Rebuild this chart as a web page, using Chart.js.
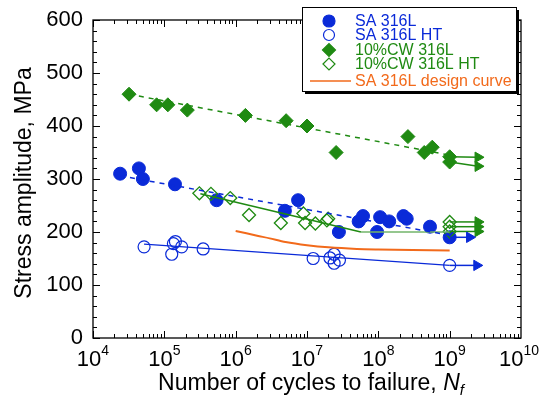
<!DOCTYPE html>
<html>
<head>
<meta charset="utf-8">
<script src="https://cdn.jsdelivr.net/npm/chart.js@4.4.1/dist/chart.umd.min.js"></script>
<style>
  html, body { margin: 0; padding: 0; background: #fff; }
  canvas { display: block; }
</style>
</head>
<body>
<canvas id="fatigueChart" width="540" height="398"></canvas>
<script>
// data (x = cycles, y = MPa)
const saX = [2.4e4, 4.4e4, 5.0e4, 1.41e5, 5.4e5, 4.9e6, 7.5e6, 2.8e7, 5.3e7, 6.1e7, 9.6e7, 1.06e8, 1.42e8, 2.25e8, 2.5e8, 5.3e8, 1e9];
const saY = [310, 320, 300, 290, 260, 240, 260, 200, 220, 230, 200, 228, 220, 230, 225, 210, 190];

const saHtX = [5.2e4, 1.27e5, 1.34e5, 1.43e5, 1.75e5, 3.5e5, 1.22e7, 2.1e7, 2.4e7, 2.4e7, 2.85e7, 1e9];
const saHtY = [172, 158, 178, 182, 172, 168, 150, 151, 158, 141, 147, 137];

const cwX = [3.2e4, 7.8e4, 1.12e5, 2.1e5, 1.37e6, 5.1e6, 1.0e7, 2.56e7, 2.6e8, 4.4e8, 5.7e8, 1e9, 1e9];
const cwY = [460, 440, 440, 430, 420, 410, 400, 350, 380, 350, 360, 342, 332];

const cwHtX = [3.1e5, 4.5e5, 8.4e5, 1.54e6, 4.3e6, 8.9e6, 9.4e6, 1.31e7, 1.9e7, 1.98e7, 1e9, 1e9, 1e9];
const cwHtY = [273, 272, 264, 232, 217, 235, 217, 216, 222, 225, 219, 210, 201];

// trend lines
const saFitX = [2.4e4, 1e9];
const saFitY = [306, 194];
const saHtFitX = [5.2e4, 1e9];
const saHtFitY = [177, 137];
const cwFitX = [3.2e4, 1e9];
const cwFitY = [460, 345];
const cwHtFitX = [3.2e5, 5.7e7, 1e9];
const cwHtFitY = [272, 200, 200];

// design curve
const designX = [1e6, 2e6, 3e6, 5e6, 1e7, 2e7, 5e7, 1e8, 3e8, 1e9];
const designY = [202, 193, 188, 181, 175, 171, 168, 167, 166, 165];

// run-out arrows (start at 1e9)
const runStartX = 1e9;
const saRunY = [190];
const saRunTipX = [1.9e9];
const saHtRunY = [137];
const saHtRunTipX = [2.4e9];
const cwRunY = [342, 332];
const cwRunTipY = [341, 324];
const cwHtRunY = [219, 210, 201];
const runTipX = 2.5e9;

const xTickExp = [4, 5, 6, 7, 8, 9, 10];
const yTicks = [0, 100, 200, 300, 400, 500, 600];

const BLUE = '#0a2ad8';
const GREEN = '#1f8a12';
const LIGHTGREEN = '#72b46a';
const ORANGE = '#f26a1b';
const FONT = "'Liberation Sans', Arial, Helvetica, sans-serif";

const pts = (xs, ys) => xs.map((x, i) => ({ x: x, y: ys[i] }));

function arrow(y0, x1, y1, color) {
    return {
        data: [{ x: runStartX, y: y0 }, { x: x1, y: y1 }],
        showLine: true, borderColor: color, backgroundColor: color, borderWidth: 1.5,
        pointStyle: 'triangle', pointRotation: 90, pointRadius: [0, 6], pointBorderWidth: 1
    };
}

const datasets = [
    { data: pts(designX, designY), showLine: true, borderColor: ORANGE, borderWidth: 2, pointRadius: 0, tension: 0.3 },
    { data: pts(saHtFitX, saHtFitY), showLine: true, borderColor: BLUE, borderWidth: 1.3, pointRadius: 0 },
    { data: pts(saFitX, saFitY), showLine: true, borderColor: BLUE, borderWidth: 1.5, borderDash: [5, 5], pointRadius: 0 },
    { data: pts(cwFitX, cwFitY), showLine: true, borderColor: GREEN, borderWidth: 1.5, borderDash: [5, 5], pointRadius: 0 },
    {
        data: pts(cwHtFitX, cwHtFitY), showLine: true, borderColor: GREEN, borderWidth: 1.5, pointRadius: 0,
        segment: { borderColor: ctx => ctx.p0.parsed.x >= 5e7 ? LIGHTGREEN : GREEN }
    },
    arrow(saRunY[0], saRunTipX[0], saRunY[0], BLUE),
    arrow(saHtRunY[0], saHtRunTipX[0], saHtRunY[0], BLUE),
    ...cwRunY.map((y, i) => arrow(y, runTipX, cwRunTipY[i], GREEN)),
    ...cwHtRunY.map(y => arrow(y, runTipX, y, GREEN)),
    { data: pts(saHtX, saHtY), pointStyle: 'circle', pointRadius: 6, borderColor: BLUE, backgroundColor: 'rgba(255,255,255,0)', pointBorderWidth: 1.2 },
    { data: pts(cwHtX, cwHtY), pointStyle: 'rectRot', pointRadius: 6.5, borderColor: GREEN, backgroundColor: 'rgba(255,255,255,0)', pointBorderWidth: 1.3 },
    { data: pts(cwX, cwY), pointStyle: 'rectRot', pointRadius: 7, borderColor: GREEN, backgroundColor: GREEN, pointBorderWidth: 1 },
    { data: pts(saX, saY), pointStyle: 'circle', pointRadius: 6.5, borderColor: BLUE, backgroundColor: BLUE, pointBorderWidth: 1 }
];

// 축, 눈금, 라벨, 범례를 직접 그림
const framePlugin = {
    id: 'frame',
    afterDraw(chart) {
        const ctx = chart.ctx;
        const a = chart.chartArea;
        const xs = chart.scales.x, ys = chart.scales.y;
        ctx.save();
        ctx.strokeStyle = '#000';
        ctx.lineWidth = 1.3;
        ctx.strokeRect(a.left, a.top, a.right - a.left, a.bottom - a.top);

        ctx.lineWidth = 1;
        ctx.beginPath();
        for (let v = 0; v <= 600; v += 20) {
            const y = Math.round(ys.getPixelForValue(v)) + 0.5;
            const len = v % 100 === 0 ? 7 : 4;
            ctx.moveTo(a.left, y); ctx.lineTo(a.left + len, y);
            ctx.moveTo(a.right, y); ctx.lineTo(a.right - len, y);
        }
        for (let e = 4; e < 10; e++) {
            for (let m = 1; m <= 9; m++) {
                const x = Math.round(xs.getPixelForValue(m * Math.pow(10, e))) + 0.5;
                const len = m === 1 ? 7 : 4;
                ctx.moveTo(x, a.bottom); ctx.lineTo(x, a.bottom - len);
                ctx.moveTo(x, a.top); ctx.lineTo(x, a.top + len);
            }
        }
        ctx.stroke();

        // y tick labels
        ctx.fillStyle = '#000';
        ctx.font = '22px ' + FONT;
        ctx.textAlign = 'right';
        ctx.textBaseline = 'middle';
        yTicks.forEach(v => ctx.fillText(String(v), a.left - 10, ys.getPixelForValue(v)));

        // x tick labels 10^n
        ctx.textAlign = 'left';
        ctx.textBaseline = 'alphabetic';
        xTickExp.forEach(e => {
            const x = xs.getPixelForValue(Math.pow(10, e));
            ctx.font = '22px ' + FONT;
            const w1 = ctx.measureText('10').width;
            ctx.font = '14px ' + FONT;
            const w2 = ctx.measureText(String(e)).width;
            let x0 = x - (w1 + w2) / 2;
            if (x0 + w1 + w2 > 539) x0 = 539 - w1 - w2;
            ctx.font = '22px ' + FONT;
            ctx.fillText('10', x0, 366);
            ctx.font = '14px ' + FONT;
            ctx.fillText(String(e), x0 + w1, 355);
        });

        // x title
        const t1 = 'Number of cycles to failure, ';
        ctx.font = '23px ' + FONT;
        const w1 = ctx.measureText(t1).width;
        ctx.font = 'italic 23px ' + FONT;
        const wN = ctx.measureText('N').width;
        ctx.font = 'italic 15px ' + FONT;
        const wf = ctx.measureText('f').width;
        let tx = 311 - (w1 + wN + wf) / 2;
        ctx.font = '23px ' + FONT;
        ctx.fillText(t1, tx, 390);
        ctx.font = 'italic 23px ' + FONT;
        ctx.fillText('N', tx + w1, 390);
        ctx.font = 'italic 15px ' + FONT;
        ctx.fillText('f', tx + w1 + wN, 395);

        // y title
        ctx.save();
        ctx.translate(31, 183);
        ctx.rotate(-Math.PI / 2);
        ctx.font = '23px ' + FONT;
        ctx.textAlign = 'center';
        ctx.fillText('Stress amplitude, MPa', 0, 0);
        ctx.restore();

        // legend box
        const lx = 302, ly = 7, lw = 214, lh = 84;
        ctx.fillStyle = '#000';
        ctx.fillRect(lx + 3, ly + 3, lw, lh);
        ctx.fillStyle = '#fff';
        ctx.fillRect(lx, ly, lw, lh);
        ctx.lineWidth = 1;
        ctx.strokeStyle = '#000';
        ctx.strokeRect(lx + 0.5, ly + 0.5, lw, lh);

        const items = [
            { label: 'SA 316L', color: BLUE, style: 'circle', r: 6, fill: true, y: 21 },
            { label: 'SA 316L HT', color: BLUE, style: 'circle', r: 5.5, fill: false, y: 35 },
            { label: '10%CW 316L', color: GREEN, style: 'rectRot', r: 6.5, fill: true, y: 50 },
            { label: '10%CW 316L HT', color: GREEN, style: 'rectRot', r: 6, fill: false, y: 64 },
            { label: 'SA 316L design curve', color: ORANGE, style: 'line', y: 81 }
        ];
        ctx.font = '16px ' + FONT;
        ctx.textBaseline = 'middle';
        ctx.textAlign = 'left';
        items.forEach(it => {
            if (it.style === 'line') {
                ctx.strokeStyle = it.color;
                ctx.lineWidth = 1.5;
                ctx.beginPath();
                ctx.moveTo(310, it.y); ctx.lineTo(351, it.y);
                ctx.stroke();
            } else {
                ctx.strokeStyle = it.color;
                ctx.fillStyle = it.fill ? it.color : '#fff';
                ctx.lineWidth = 1.2;
                Chart.helpers.drawPoint(ctx, { pointStyle: it.style, radius: it.r, borderWidth: 1.2 }, 329, it.y);
            }
            ctx.fillStyle = it.color;
            ctx.fillText(it.label, 355, it.y + 1);
        });
        ctx.restore();
    }
};

new Chart(document.getElementById('fatigueChart'), {
    type: 'scatter',
    data: { datasets: datasets },
    options: {
        responsive: false,
        animation: false,
        layout: { padding: { left: 93, right: 19, top: 20, bottom: 60 } },
        plugins: { legend: { display: false }, tooltip: { enabled: false } },
        scales: {
            x: { type: 'logarithmic', min: 1e4, max: 1e10, display: false },
            y: { type: 'linear', min: 0, max: 600, display: false }
        }
    },
    plugins: [framePlugin]
});
</script>
</body>
</html>
